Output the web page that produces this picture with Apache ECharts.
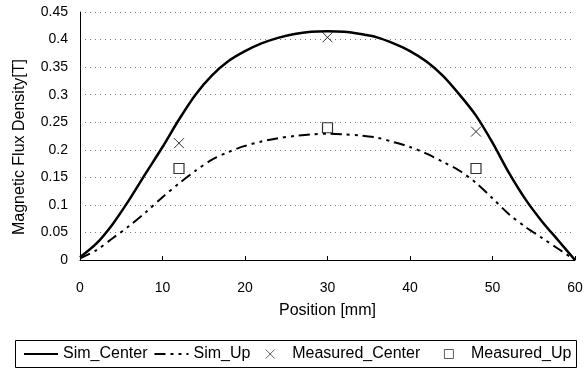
<!DOCTYPE html>
<html><head><meta charset="utf-8">
<script src="https://cdn.jsdelivr.net/npm/echarts@6/dist/echarts.min.js"></script>
<style>html,body{margin:0;padding:0;background:#fff}#c{width:587px;height:372px}</style>
</head><body><div id="c"></div>
<script>
var positions = [0,2,4,6,8,10,12,14,16,18,20,22,24,26,28,30,32,34,36,38,40,42,44,46,48,50,52,54,56,58,60];
var simCenter = [0.005,0.03,0.066,0.11,0.158,0.205,0.255,0.3,0.335,0.361,0.379,0.393,0.403,0.41,0.414,0.415,0.414,0.41,0.404,0.393,0.379,0.36,0.334,0.3,0.262,0.213,0.158,0.11,0.07,0.035,0.0];
var simUp = [0.003,0.018,0.04,0.062,0.087,0.114,0.139,0.162,0.182,0.196,0.207,0.215,0.221,0.225,0.228,0.229,0.228,0.226,0.222,0.214,0.205,0.193,0.178,0.162,0.14,0.112,0.083,0.06,0.04,0.02,0.0];
var measPos = [12,30,48];
var measCenter = [0.212,0.404,0.233];
var measUp = [0.166,0.24,0.166];
var yTicks = [0,0.05,0.1,0.15,0.2,0.25,0.3,0.35,0.4,0.45];
var xTicks = [0,10,20,30,40,50,60];
var legendNames = ['Sim_Center','Sim_Up','Measured_Center','Measured_Up'];
var legendTrail = {'Sim_Center':'', 'Sim_Up':'  ', 'Measured_Center':'    ', 'Measured_Up':''};

function pairs(xs, ys){ return xs.map(function(x,i){return [x, ys[i]];}); }
var FONT = 'Arial, "Liberation Sans", sans-serif';
var crossPath = 'path://M0,0L10,10M10,0L0,10';
var squarePath = 'path://M0,0H10V10H0Z';

var chart = echarts.init(document.getElementById('c'), null, {renderer:'canvas'});
chart.setOption({
  animation:false,
  textStyle:{fontFamily:FONT, color:'#000'},
  grid:{left:80, right:12, top:12, bottom:112},
  xAxis:{type:'value', min:xTicks[0], max:xTicks[xTicks.length-1], interval:10,
    name:'Position [mm]', nameLocation:'middle', nameGap:43,
    nameTextStyle:{fontFamily:FONT, fontSize:16, color:'#000'},
    axisLine:{lineStyle:{color:'#000', width:1}},
    axisTick:{inside:true, length:4, lineStyle:{color:'#000'}},
    axisLabel:{fontFamily:FONT, fontSize:14, color:'#000', margin:21},
    splitLine:{show:false}},
  yAxis:{type:'value', min:yTicks[0], max:yTicks[yTicks.length-1], interval:0.05,
    name:'Magnetic Flux Density[T]', nameLocation:'middle', nameGap:52,
    nameTextStyle:{fontFamily:FONT, fontSize:16, color:'#000', padding:[0,22,0,0]},
    axisLine:{show:true, lineStyle:{color:'#000', width:1}},
    axisTick:{show:false},
    axisLabel:{fontFamily:FONT, fontSize:14, color:'#000', margin:12,
      formatter:function(v){ return String(Math.round(v*100)/100); }},
    splitLine:{show:true, lineStyle:{color:'#777', type:[1,4], width:1}}},
  legend:{left:23, top:346, padding:0, itemWidth:34, itemHeight:9, itemGap:6,
    textStyle:{fontFamily:FONT, fontSize:16, color:'#000'},
    formatter:function(name){ return name + legendTrail[name]; },
    data:[
      {name:legendNames[0], itemStyle:{opacity:0}},
      {name:legendNames[1], itemStyle:{opacity:0}},
      {name:legendNames[2], icon:crossPath, itemStyle:{borderWidth:0.8}},
      {name:legendNames[3], icon:squarePath, itemStyle:{borderWidth:0.8}}]},
  graphic:[{type:'rect', shape:{x:15.5, y:340.5, width:561, height:27},
    style:{fill:'none', stroke:'#000', lineWidth:1}, silent:true}],
  series:[
    {name:legendNames[0], type:'line', smooth:0.3, symbol:'none', data:pairs(positions, simCenter),
      lineStyle:{color:'#000', width:2.5}, itemStyle:{color:'#000'}},
    {name:legendNames[1], type:'line', smooth:0.3, symbol:'none', data:pairs(positions, simUp),
      lineStyle:{color:'#000', width:2, type:[11,5,3,5,3,5]}, itemStyle:{color:'#000'}},
    {name:legendNames[2], type:'scatter', symbol:crossPath, symbolSize:10, data:pairs(measPos, measCenter),
      itemStyle:{color:'rgba(0,0,0,0)', borderColor:'#000', borderWidth:1}},
    {name:legendNames[3], type:'scatter', symbol:squarePath, symbolSize:10, data:pairs(measPos, measUp),
      itemStyle:{color:'#fff', borderColor:'#000', borderWidth:1.2}}
  ]
});
</script></body></html>
